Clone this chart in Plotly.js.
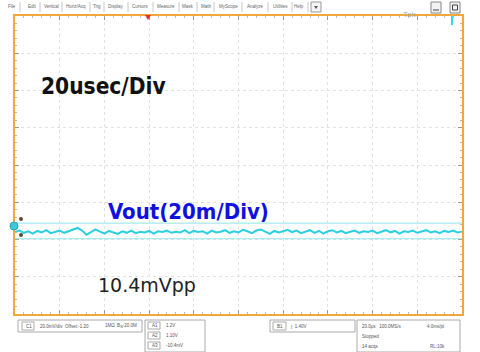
<!DOCTYPE html>
<html><head><meta charset="utf-8">
<script src="https://cdn.plot.ly/plotly-3.0.1.min.js"></script>
<style>html,body{margin:0;padding:0;background:#fff}#c{width:480px;height:352px}</style>
</head><body><div id="c"></div>
<script>
// time axis (µs) and Vout ripple (mV, relative to screen centre)
var timeUs = [];
for (var i = 0; i <= 100; i++) timeUs.push(i * 2);
var voutMv = [
-36.0,-35.2,-36.4,-35.6,-36.8,-35.4,-36.2,-35.0,-36.6,-35.8,
-35.2,-36.4,-35.6,-34.4,-33.8,-35.2,-37.4,-36.0,-34.6,-35.8,
-36.8,-35.4,-36.2,-37.0,-35.6,-36.4,-35.2,-36.6,-35.8,-36.2,
-35.4,-36.8,-35.6,-36.0,-35.2,-36.4,-35.8,-36.2,-35.0,-36.6,
-35.4,-36.0,-35.6,-36.8,-35.2,-36.2,-35.8,-35.0,-36.4,-35.6,
-36.2,-34.8,-35.6,-36.6,-35.2,-34.6,-35.8,-37.0,-35.4,-36.2,
-35.6,-34.8,-36.0,-35.2,-36.6,-35.8,-35.0,-36.4,-35.4,-36.8,
-35.6,-35.0,-36.2,-35.4,-36.6,-35.8,-35.2,-36.4,-35.6,-36.0,
-35.2,-36.6,-35.8,-35.0,-36.2,-35.4,-36.8,-35.6,-36.0,-35.2,
-36.4,-35.8,-35.0,-36.2,-35.6,-36.6,-35.4,-36.0,-35.2,-36.2,-35.8];
var bandLevels = [-31.2, -39.6];
var menuItems = ["File","Edit","Vertical","Horiz/Acq","Trig","Display","Cursors","Measure","Mask","Math","MyScope","Analyze","Utilities","Help"];
var labels = {timebase: "20usec/Div", channel: "Vout(20m/Div)", ripple: "10.4mVpp"};

// pixel -> paper helpers (plot area 15..462 x 16..314)
function px(x){return (x-15)/447;}
function py(y){return (314-y)/298;}

var shapes = [], ann = [];
bandLevels.forEach(function(v){
  shapes.push({type:'line',xref:'paper',yref:'y',x0:0,x1:1,y0:v,y1:v,line:{color:'#8fe4ec',width:1}});
});
// menu bar
var mx = [4,24,40,62,90,104,127,153,179,198,214,242,268,290];
var mw = [14,14,20,26,12,22,24,24,16,14,26,24,22,16];
menuItems.forEach(function(t,i){
  shapes.push({type:'line',xref:'paper',yref:'paper',x0:px(mx[i]+mw[i]+2),x1:px(mx[i]+mw[i]+2),y0:py(2),y1:py(12),line:{color:'#c8c8c8',width:1}});
  ann.push({xref:'paper',yref:'paper',x:px(mx[i]+mw[i]/2+1),y:py(7),text:t,showarrow:false,font:{size:4.5,color:'#666',family:'Liberation Sans'},xanchor:'center',yanchor:'middle'});
});
shapes.push({type:'rect',xref:'paper',yref:'paper',x0:px(311),x1:px(321),y0:py(2),y1:py(12),line:{color:'#999',width:1},fillcolor:'#f4f4f4'});
shapes.push({type:'path',xref:'paper',yref:'paper',path:'M '+px(314)+' '+py(6)+' L '+px(318)+' '+py(6)+' L '+px(316)+' '+py(9)+' Z',fillcolor:'#555',line:{width:0}});
ann.push({xref:'paper',yref:'paper',x:px(418),y:py(8),text:'Tek',showarrow:false,font:{size:8,color:'#aaa',family:'Liberation Sans'}});
shapes.push({type:'rect',xref:'paper',yref:'paper',x0:px(431),x1:px(441),y0:py(2),y1:py(13),line:{color:'#888',width:1},fillcolor:'#f2f2f2'});
shapes.push({type:'rect',xref:'paper',yref:'paper',x0:px(450),x1:px(460),y0:py(2),y1:py(13),line:{color:'#888',width:1},fillcolor:'#f2f2f2'});
shapes.push({type:'line',xref:'paper',yref:'paper',x0:px(433),x1:px(439),y0:py(10),y1:py(10),line:{color:'#444',width:1}});
shapes.push({type:'rect',xref:'paper',yref:'paper',x0:px(452.5),x1:px(457.5),y0:py(5),y1:py(10),line:{color:'#444',width:1}});
// trigger marker & cyan marker
shapes.push({type:'path',xref:'paper',yref:'paper',path:'M '+px(145)+' '+py(15)+' L '+px(151)+' '+py(15)+' L '+px(148)+' '+py(20)+' Z',fillcolor:'#e83030',line:{width:0}});
shapes.push({type:'line',xref:'paper',yref:'paper',x0:px(452),x1:px(452),y0:py(16),y1:py(25),line:{color:'#30d8e8',width:2}});
// left channel markers
shapes.push({type:'circle',xref:'paper',yref:'paper',x0:px(10),x1:px(18),y0:py(222),y1:py(230),fillcolor:'#3cc8d8',line:{color:'#20a8b8',width:1}});
shapes.push({type:'circle',xref:'paper',yref:'paper',x0:px(19),x1:px(23),y0:py(217),y1:py(221),fillcolor:'#5a4a30',line:{width:0}});
shapes.push({type:'circle',xref:'paper',yref:'paper',x0:px(19),x1:px(23),y0:py(233),y1:py(237),fillcolor:'#5a4a30',line:{width:0}});
// bottom info boxes
function box(x0,y0,x1,y1){shapes.push({type:'rect',xref:'paper',yref:'paper',x0:px(x0),x1:px(x1),y0:py(y0),y1:py(y1),line:{color:'#aaa',width:1},fillcolor:'#fff'});}
function txt(x,y,t,s){ann.push({xref:'paper',yref:'paper',x:px(x),y:py(y),text:t,showarrow:false,xanchor:'left',yanchor:'middle',font:{size:s||4.5,color:'#555',family:'Liberation Sans'}});}
box(18,320,142,332); box(22,322,34,330); txt(24,326,'C1'); txt(38,326,'20.0mV/div  Offset:-1.20'); txt(103,326,'1MΩ  B<sub>W</sub>:20.0M');
box(145,320,205,352); box(148,322,160,329); box(148,332,160,339); box(148,342,160,349);
txt(150,325.5,'A1'); txt(150,335.5,'A2'); txt(150,345.5,'A3');
txt(164,325.5,'1.2V'); txt(164,335.5,'1.10V'); txt(164,345.5,'-10.4mV');
box(270,320,355,332); box(273,322,286,330); txt(275,326,'B1'); txt(288,326,'∫  1.40V');
box(357,320,460,352);
txt(360,326,'20.0μs   100.0MS/s'); txt(425,326,'4.0ms/pt');
txt(360,336,'Stopped'); txt(360,346,'14 acqs'); txt(428,346,'RL:10k');
// main labels
ann.push({xref:'paper',yref:'paper',x:px(39),y:py(86),text:'<b>'+labels.timebase+'</b>',showarrow:false,xanchor:'left',yanchor:'middle',font:{size:22.5,color:'#111',family:'DejaVu Sans Condensed, Liberation Sans Narrow, sans-serif'}});
ann.push({xref:'paper',yref:'paper',x:px(106),y:py(211),text:'<b>'+labels.channel+'</b>',showarrow:false,xanchor:'left',yanchor:'middle',font:{size:22,color:'#1010e0',family:'DejaVu Sans Condensed, Liberation Sans Narrow, sans-serif'}});
ann.push({xref:'paper',yref:'paper',x:px(96),y:py(285),text:labels.ripple,showarrow:false,xanchor:'left',yanchor:'middle',font:{size:19,color:'#222',family:'DejaVu Sans, sans-serif'}});

var trace = {x:timeUs,y:voutMv,type:'scatter',mode:'lines',line:{color:'#2ccfe0',width:2},hoverinfo:'skip'};
var axBase = {showticklabels:false,zeroline:false,showline:true,linecolor:'#f0a838',linewidth:2,mirror:'ticks',
  ticks:'inside',ticklen:4,tickcolor:'#999',showgrid:true,gridcolor:'#e2e2e2',griddash:'dot',gridwidth:1,fixedrange:true};
var layout = {
  width:480,height:352,margin:{l:15,r:18,t:16,b:38},paper_bgcolor:'#fff',plot_bgcolor:'#fff',showlegend:false,
  xaxis:Object.assign({},axBase,{range:[0,200],dtick:20,tick0:0,minor:{dtick:4,ticklen:2,tickcolor:'#bbb',showgrid:false,ticks:'inside'}}),
  yaxis:Object.assign({},axBase,{range:[-80,80],dtick:20,tick0:0,minor:{dtick:4,ticklen:2,tickcolor:'#bbb',showgrid:false,ticks:'inside'}}),
  shapes:shapes,annotations:ann
};
Plotly.newPlot('c',[trace],layout,{displayModeBar:false,staticPlot:true});
</script></body></html>
